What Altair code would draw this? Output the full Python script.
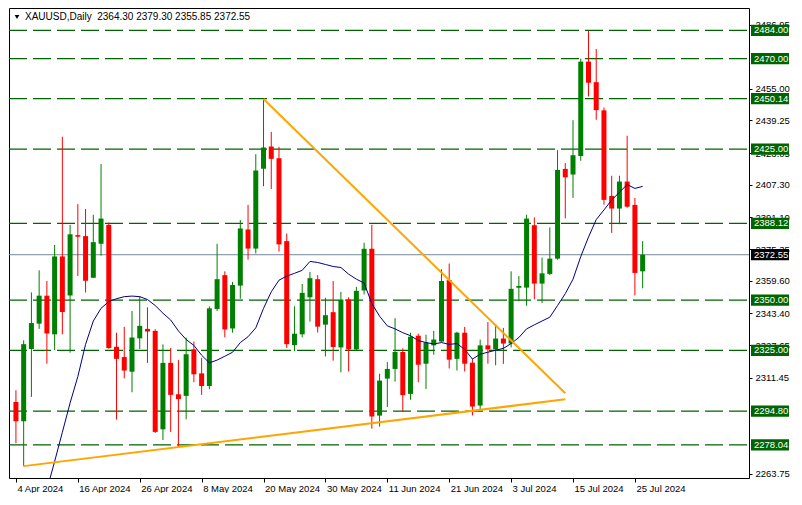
import json
import altair as alt
import pandas as pd

# ---------------- data ----------------
date_labels = ["4 Apr 2024", "16 Apr 2024", "26 Apr 2024", "8 May 2024", "20 May 2024",
               "30 May 2024", "11 Jun 2024", "21 Jun 2024", "3 Jul 2024", "15 Jul 2024",
               "25 Jul 2024"]
date_label_bars = [0, 8, 16, 24, 32, 40, 48, 56, 64, 72, 80]

opens = [2299.4, 2289.8, 2325.7, 2338.3, 2352.2, 2333.0, 2371.7, 2352.3, 2382.3, 2381.8,
         2361.1, 2378.0, 2387.4, 2326.8, 2321.7, 2314.4, 2331.0, 2335.7, 2334.7, 2285.8,
         2318.8, 2303.2, 2302.4, 2325.5, 2313.6, 2307.3, 2345.6, 2362.4, 2335.9, 2357.2,
         2385.1, 2375.6, 2415.3, 2426.3, 2420.5, 2379.3, 2327.6, 2333.0, 2351.4, 2360.4,
         2337.8, 2344.0, 2326.5, 2350.3, 2325.5, 2354.8, 2375.5, 2292.6, 2311.0, 2315.8,
         2324.2, 2303.4, 2332.3, 2318.4, 2327.5, 2329.4, 2359.9, 2320.8, 2333.8, 2318.9,
         2297.6, 2327.5, 2325.5, 2330.9, 2328.4, 2356.1, 2356.2, 2387.2, 2358.2, 2363.0,
         2370.6, 2415.2, 2412.4, 2421.6, 2468.5, 2458.3, 2444.3, 2401.8, 2395.5, 2408.9,
         2397.3, 2364.30]
highs = [2305.2, 2330.0, 2353.8, 2364.8, 2359.5, 2377.4, 2431.2, 2387.4, 2397.7, 2395.3,
         2392.4, 2417.6, 2388.5, 2333.8, 2336.7, 2344.6, 2352.0, 2346.4, 2335.5, 2328.0,
         2326.2, 2320.2, 2331.4, 2329.4, 2321.3, 2346.9, 2378.0, 2364.3, 2359.1, 2389.8,
         2397.3, 2422.5, 2449.9, 2433.6, 2426.2, 2383.1, 2346.9, 2358.0, 2364.0, 2362.4,
         2351.2, 2359.5, 2354.1, 2351.4, 2356.6, 2378.5, 2387.4, 2313.4, 2319.2, 2341.0,
         2326.0, 2333.8, 2333.3, 2332.8, 2334.7, 2365.3, 2368.2, 2334.3, 2336.7, 2320.8,
         2330.4, 2339.1, 2338.1, 2336.2, 2364.3, 2361.9, 2392.4, 2391.1, 2371.1, 2386.1,
         2424.5, 2418.1, 2439.4, 2470.0, 2483.7, 2474.8, 2445.7, 2411.8, 2411.8, 2431.7,
         2400.7, 2379.30]
lows = [2278.9, 2267.5, 2301.9, 2335.7, 2318.4, 2325.2, 2333.0, 2323.9, 2362.0, 2353.8,
        2361.0, 2372.1, 2325.8, 2290.6, 2311.1, 2304.2, 2325.7, 2318.8, 2284.0, 2280.5,
        2284.5, 2277.1, 2290.8, 2309.2, 2302.9, 2305.7, 2344.6, 2331.5, 2333.8, 2350.7,
        2370.1, 2373.2, 2406.6, 2405.2, 2374.1, 2326.2, 2324.6, 2331.5, 2339.3, 2333.9,
        2322.0, 2319.9, 2314.1, 2314.5, 2325.0, 2352.8, 2286.1, 2287.1, 2296.9, 2309.5,
        2294.5, 2300.5, 2309.2, 2305.8, 2322.8, 2329.0, 2316.0, 2315.0, 2314.5, 2292.7,
        2295.6, 2318.4, 2317.6, 2318.3, 2326.5, 2349.6, 2347.2, 2350.4, 2348.5, 2362.5,
        2370.1, 2390.6, 2400.8, 2419.2, 2451.2, 2439.6, 2397.4, 2383.4, 2387.7, 2395.9,
        2352.3, 2355.85]
closes = [2289.8, 2328.1, 2338.6, 2352.2, 2333.4, 2371.7, 2344.1, 2382.7, 2381.5, 2359.6,
          2378.8, 2390.5, 2326.2, 2320.8, 2315.0, 2331.4, 2337.2, 2334.4, 2284.5, 2318.8,
          2302.9, 2300.8, 2323.1, 2313.1, 2307.3, 2345.9, 2360.4, 2335.4, 2357.5, 2385.6,
          2375.6, 2414.4, 2425.8, 2420.2, 2377.7, 2328.1, 2333.3, 2353.6, 2360.9, 2336.8,
          2342.5, 2326.7, 2350.3, 2325.5, 2354.6, 2375.5, 2292.1, 2310.0, 2315.8, 2324.2,
          2302.8, 2331.8, 2317.9, 2328.9, 2330.4, 2359.5, 2320.4, 2333.8, 2318.4, 2297.1,
          2327.5, 2325.5, 2330.9, 2328.4, 2355.6, 2357.0, 2390.5, 2358.2, 2363.3, 2370.6,
          2414.7, 2411.0, 2422.0, 2468.5, 2458.0, 2444.4, 2399.8, 2395.5, 2408.9, 2396.4,
          2363.5, 2372.55]
ma_values = [None, None, None, None,
             2255.8, 2269.8, 2284.3, 2298.9, 2312.0, 2328.0, 2339.6, 2345.9, 2349.3, 2350.7,
             2351.7, 2352.0, 2351.7, 2350.3, 2347.3, 2343.5, 2340.1, 2334.7, 2330.4, 2327.5,
             2322.6, 2318.8, 2320.2, 2322.1, 2324.1, 2328.9, 2331.8, 2336.2, 2345.9, 2354.1,
             2359.9, 2361.9, 2363.3, 2364.8, 2369.2, 2368.7, 2367.7, 2366.7, 2366.2, 2362.9,
             2360.4, 2358.5, 2348.3, 2342.0, 2337.2, 2335.7, 2333.8, 2332.3, 2329.9, 2328.9,
             2328.2, 2328.9, 2328.0, 2328.4, 2325.5, 2320.7, 2323.1, 2324.1, 2325.1, 2326.0,
             2328.4, 2331.4, 2335.7, 2337.7, 2339.6, 2341.5, 2347.3, 2353.2, 2360.4, 2371.6,
             2381.3, 2390.0, 2394.8, 2399.7, 2403.6, 2407.4, 2405.5, 2406.5]

levels = [2484.00, 2470.00, 2450.14, 2425.00, 2388.12, 2350.00, 2325.00, 2294.80, 2278.04]
# price-scale labels that are at least partly visible beside the level boxes
axis_ticks = [2263.75, 2311.45, 2327.65, 2343.40, 2359.60, 2375.35,
              2391.10, 2407.30, 2423.05, 2439.25, 2455.00, 2486.95]
last_price = 2372.55

trend_names = ["resistance", "resistance", "support", "support"]
trend_bars = [32, 71, 1, 71]
trend_prices = [2449.9, 2303.7, 2267.5, 2300.7]

title_text = "XAUUSD,Daily\u00a0\u00a02364.30 2379.30 2355.85 2372.55"

assert len(opens) == len(highs) == len(lows) == len(closes) == len(ma_values)

# ---------------- chart ----------------
W, H = 740, 470
FONT = "Liberation Sans"
GREEN = "#008000"
RED = "#ff0000"
LEVEL = "#006400"

n = len(opens)
candles = pd.DataFrame({"i": list(range(n)), "o": opens, "h": highs, "l": lows, "c": closes})
candles["dir"] = ["up" if c >= o else "down" for o, c in zip(opens, closes)]
ma_df = pd.DataFrame({"i": list(range(n)), "ma": ma_values})
lv_df = pd.DataFrame({"p": levels, "label": [f"{v:.2f}" for v in levels]})
last_df = pd.DataFrame({"p": [last_price], "label": [f"{last_price:.2f}"]})
tr_df = pd.DataFrame({"line": trend_names, "i": trend_bars, "p": trend_prices})

xs = alt.Scale(domain=[-0.25, 94.1], nice=False, zero=False)
ys = alt.Scale(domain=[2261.6, 2495.15], nice=False, zero=False)

label_expr = json.dumps(date_labels) + "[round(datum.value / 8)]"
x_axis = alt.Axis(values=date_label_bars, labelExpr=label_expr, title=None, grid=False,
                  domain=False, ticks=True, tickSize=4, tickColor="black", labelAlign="left",
                  labelPadding=1, labelFont=FONT, labelFontSize=9.5, labelColor="black",
                  labelFlush=False, labelOverlap=False, labelOffset=1)
y_axis = alt.Axis(values=axis_ticks, format=".2f", orient="right", title=None, grid=False,
                  domain=False, tickSize=3, tickColor="black", labelPadding=3, labelFont=FONT,
                  labelFontSize=9.5, labelColor="black", labelOverlap=False, labelFlush=False)


def X(field):
    return alt.X(field, scale=xs, axis=x_axis)


def Y(field):
    return alt.Y(field, scale=ys, axis=y_axis)


color = alt.Color("dir:N", scale=alt.Scale(domain=["up", "down"], range=[GREEN, RED]), legend=None)

level_lines = alt.Chart(lv_df).mark_rule(color=LEVEL, strokeWidth=1.2, strokeDash=[18, 6]).encode(
    y=Y("p:Q"), x=alt.value(0), x2=alt.value(W))
price_line = alt.Chart(last_df).mark_rule(color="#778899", strokeWidth=1).encode(
    y=Y("p:Q"), x=alt.value(0), x2=alt.value(W))
wicks = alt.Chart(candles).mark_rule(strokeWidth=1).encode(
    x=X("i:Q"), y=Y("l:Q"), y2="h:Q", color=color)
bodies = alt.Chart(candles).mark_bar(size=5).encode(
    x=X("i:Q"), y=Y("o:Q"), y2="c:Q", color=color)
ma_line = alt.Chart(ma_df).mark_line(color="#000080", strokeWidth=1, clip=True).encode(
    x=X("i:Q"), y=Y("ma:Q"))
trend = alt.Chart(tr_df).mark_line(color="#ffa500", strokeWidth=2).encode(
    x=X("i:Q"), y=Y("p:Q"), detail="line:N")

lv_boxes = alt.Chart(lv_df).transform_calculate(
    top="datum.p + 2.8", bot="datum.p - 2.8").mark_rect(color=LEVEL).encode(
    x=alt.value(W + 2), x2=alt.value(W + 40), y=Y("top:Q"), y2="bot:Q")
lv_text = alt.Chart(lv_df).mark_text(align="left", baseline="middle", color="white", font=FONT,
                                     fontSize=9.5).encode(
    x=alt.value(W + 5), y=Y("p:Q"), text="label:N")
last_box = alt.Chart(last_df).transform_calculate(
    top="datum.p + 2.8", bot="datum.p - 2.8").mark_rect(color="black").encode(
    x=alt.value(W + 2), x2=alt.value(W + 40), y=Y("top:Q"), y2="bot:Q")
last_text = alt.Chart(last_df).mark_text(align="left", baseline="middle", color="white", font=FONT,
                                         fontSize=9.5).encode(
    x=alt.value(W + 5), y=Y("p:Q"), text="label:N")

title_df = pd.DataFrame({"t": [title_text]})
title_mark = alt.Chart(title_df).mark_text(align="left", baseline="middle", color="black",
                                           font=FONT, fontSize=10).encode(
    x=alt.value(16), y=alt.value(9), text="t:N")
tri = alt.Chart(title_df).mark_point(shape="triangle-down", filled=True, color="black",
                                     size=22, opacity=1).encode(
    x=alt.value(8), y=alt.value(9))

chart = alt.layer(
    level_lines, price_line, wicks, bodies, ma_line, trend,
    lv_boxes, lv_text, last_box, last_text, title_mark, tri
).properties(
    width=W, height=H, padding={"left": 0, "top": 0, "right": 0, "bottom": 0},
    background="white"
).configure_view(stroke="black", strokeWidth=1)

chart.save("out.html", embed_options={"renderer": "svg", "actions": False})
